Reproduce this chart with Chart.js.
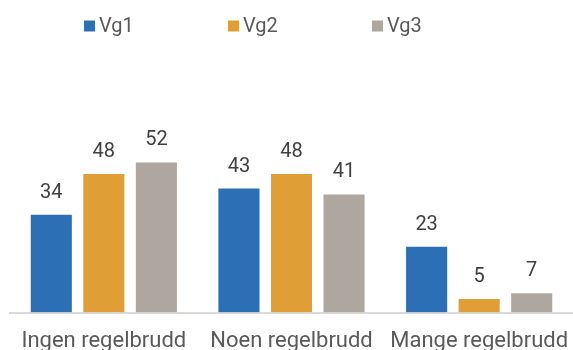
<!DOCTYPE html>
<html>
<head>
<meta charset="utf-8">
<script src="https://cdn.jsdelivr.net/npm/chart.js@4/dist/chart.umd.min.js"></script>
<style>
    html, body { margin: 0; padding: 0; background: #fff; }
    #wrap { width: 573px; height: 350px; }
</style>
</head>
<body>
<div id="wrap"><canvas id="regelChart"></canvas></div>
<script>
// Kategorier og verdier
const categories = ['Ingen regelbrudd', 'Noen regelbrudd', 'Mange regelbrudd'];
const seriesNames = ['Vg1', 'Vg2', 'Vg3'];
const vg1 = [34, 43, 23];
const vg2 = [48, 48, 5];
const vg3 = [52, 41, 7];
const seriesColors = ['#2d6fb4', '#e09f36', '#aea7a0'];

const fontFamily = 'Roboto, "Noto Sans", sans-serif';

// Tall over søylene
const valueLabels = {
    id: 'valueLabels',
    afterDatasetsDraw(chart) {
        const ctx = chart.ctx;
        ctx.save();
        ctx.font = `20px ${fontFamily}`;
        ctx.fillStyle = '#404040';
        ctx.textAlign = 'center';
        ctx.textBaseline = 'alphabetic';
        chart.data.datasets.forEach((ds, i) => {
            chart.getDatasetMeta(i).data.forEach((bar, j) => {
                ctx.fillText(String(ds.data[j]), bar.x, bar.y - 16);
            });
        });
        ctx.restore();
    }
};

// Egen forklaring øverst
const topLegend = {
    id: 'topLegend',
    afterDraw(chart, args, opts) {
        const ctx = chart.ctx;
        ctx.save();
        ctx.font = `20px ${fontFamily}`;
        ctx.textBaseline = 'middle';
        ctx.textAlign = 'left';
        chart.data.datasets.forEach((ds, i) => {
            const x = opts.startX + i * opts.step;
            ctx.fillStyle = ds.backgroundColor;
            ctx.fillRect(x, opts.y - 5.5, 11, 11);
            ctx.fillStyle = '#595959';
            ctx.fillText(ds.label, x + 15, opts.y + 1);
        });
        ctx.restore();
    }
};

const datasets = seriesNames.map((name, i) => ({
    label: name,
    data: [vg1, vg2, vg3][i],
    backgroundColor: seriesColors[i],
    borderColor: 'rgba(255,255,255,0.6)',
    borderWidth: 1,
    categoryPercentage: 0.84,
    barPercentage: 0.82
}));

new Chart(document.getElementById('regelChart'), {
    type: 'bar',
    data: { labels: categories, datasets: datasets },
    plugins: [valueLabels, topLegend],
    options: {
        responsive: true,
        maintainAspectRatio: false,
        animation: false,
        layout: {
            padding: { top: 80, left: 10, right: -3, bottom: -21 }
        },
        plugins: {
            legend: { display: false },
            tooltip: { enabled: false },
            topLegend: { startX: 84, step: 144, y: 26 }
        },
        scales: {
            x: {
                grid: { display: false, drawTicks: false },
                border: { display: true, color: '#d9d9d9', width: 2 },
                ticks: {
                    padding: 16,
                    color: '#595959',
                    font: { family: fontFamily, size: 22 }
                },
                // ingen ekstra marg for de ytterste etikettene
                afterFit(scale) {
                    scale.paddingLeft = 0;
                    scale.paddingRight = 0;
                }
            },
            y: {
                display: false,
                min: 0,
                max: 80
            }
        }
    }
});
</script>
</body>
</html>
